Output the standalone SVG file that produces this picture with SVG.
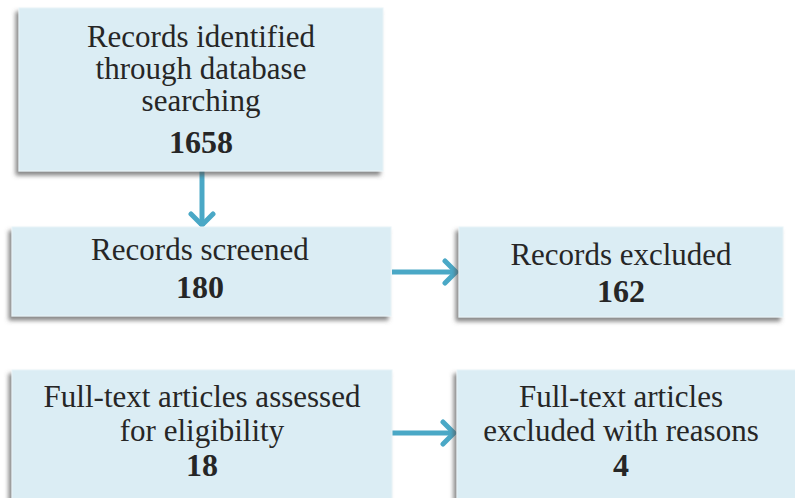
<svg xmlns="http://www.w3.org/2000/svg" width="795" height="498" viewBox="0 0 795 498">
<defs>
<filter id="sh" x="-10%" y="-10%" width="120%" height="130%">
<feDropShadow dx="-3" dy="4" stdDeviation="2" flood-color="#555" flood-opacity="0.7"/>
</filter>
<marker id="ahb" markerWidth="28" markerHeight="28" refX="18" refY="14" orient="auto" markerUnits="userSpaceOnUse">
<path d="M6,3 L17,14 L6,25" fill="none" stroke="#4aa8c6" stroke-width="5" stroke-linecap="round" stroke-linejoin="round"/>
</marker>
</defs>
<style>
.box{fill:#dbedf4;stroke:#e8f3f7;stroke-width:1;filter:url(#sh)}
.t{font-family:"Liberation Serif","DejaVu Serif",serif;font-size:31px;fill:#262626;text-anchor:middle}
.b{font-weight:bold;font-size:32px}
.c{stroke:#4aa8c6;stroke-width:5;fill:none;marker-end:url(#ahb)}
</style>
<g id="connectors">
<line class="c" x1="202" y1="171" x2="202" y2="226"/>
<line class="c" x1="392" y1="272" x2="457" y2="272"/>
<line class="c" x1="392" y1="433" x2="455" y2="433"/>
</g>
<g id="n1">
<rect class="box" x="19" y="8" width="364" height="163"/>
<text class="t" x="201" y="47">Records identified</text>
<text class="t" x="201" y="79">through database</text>
<text class="t" x="201" y="111">searching</text>
<text class="t b" x="201" y="153">1658</text>
</g>
<g id="n2">
<rect class="box" x="12" y="227" width="379" height="89"/>
<text class="t" x="200" y="260">Records screened</text>
<text class="t b" x="200" y="298">180</text>
</g>
<g id="n3">
<rect class="box" x="459" y="227" width="324" height="90"/>
<text class="t" x="621" y="265">Records excluded</text>
<text class="t b" x="621" y="302">162</text>
</g>
<g id="n4">
<rect class="box" x="12" y="370" width="380" height="135"/>
<text class="t" x="202" y="407">Full-text articles assessed</text>
<text class="t" x="202" y="441">for eligibility</text>
<text class="t b" x="202" y="476">18</text>
</g>
<g id="n5">
<rect class="box" x="457" y="370" width="345" height="135"/>
<text class="t" x="621" y="407">Full-text articles</text>
<text class="t" x="621" y="441">excluded with reasons</text>
<text class="t b" x="621" y="476">4</text>
</g>
</svg>
